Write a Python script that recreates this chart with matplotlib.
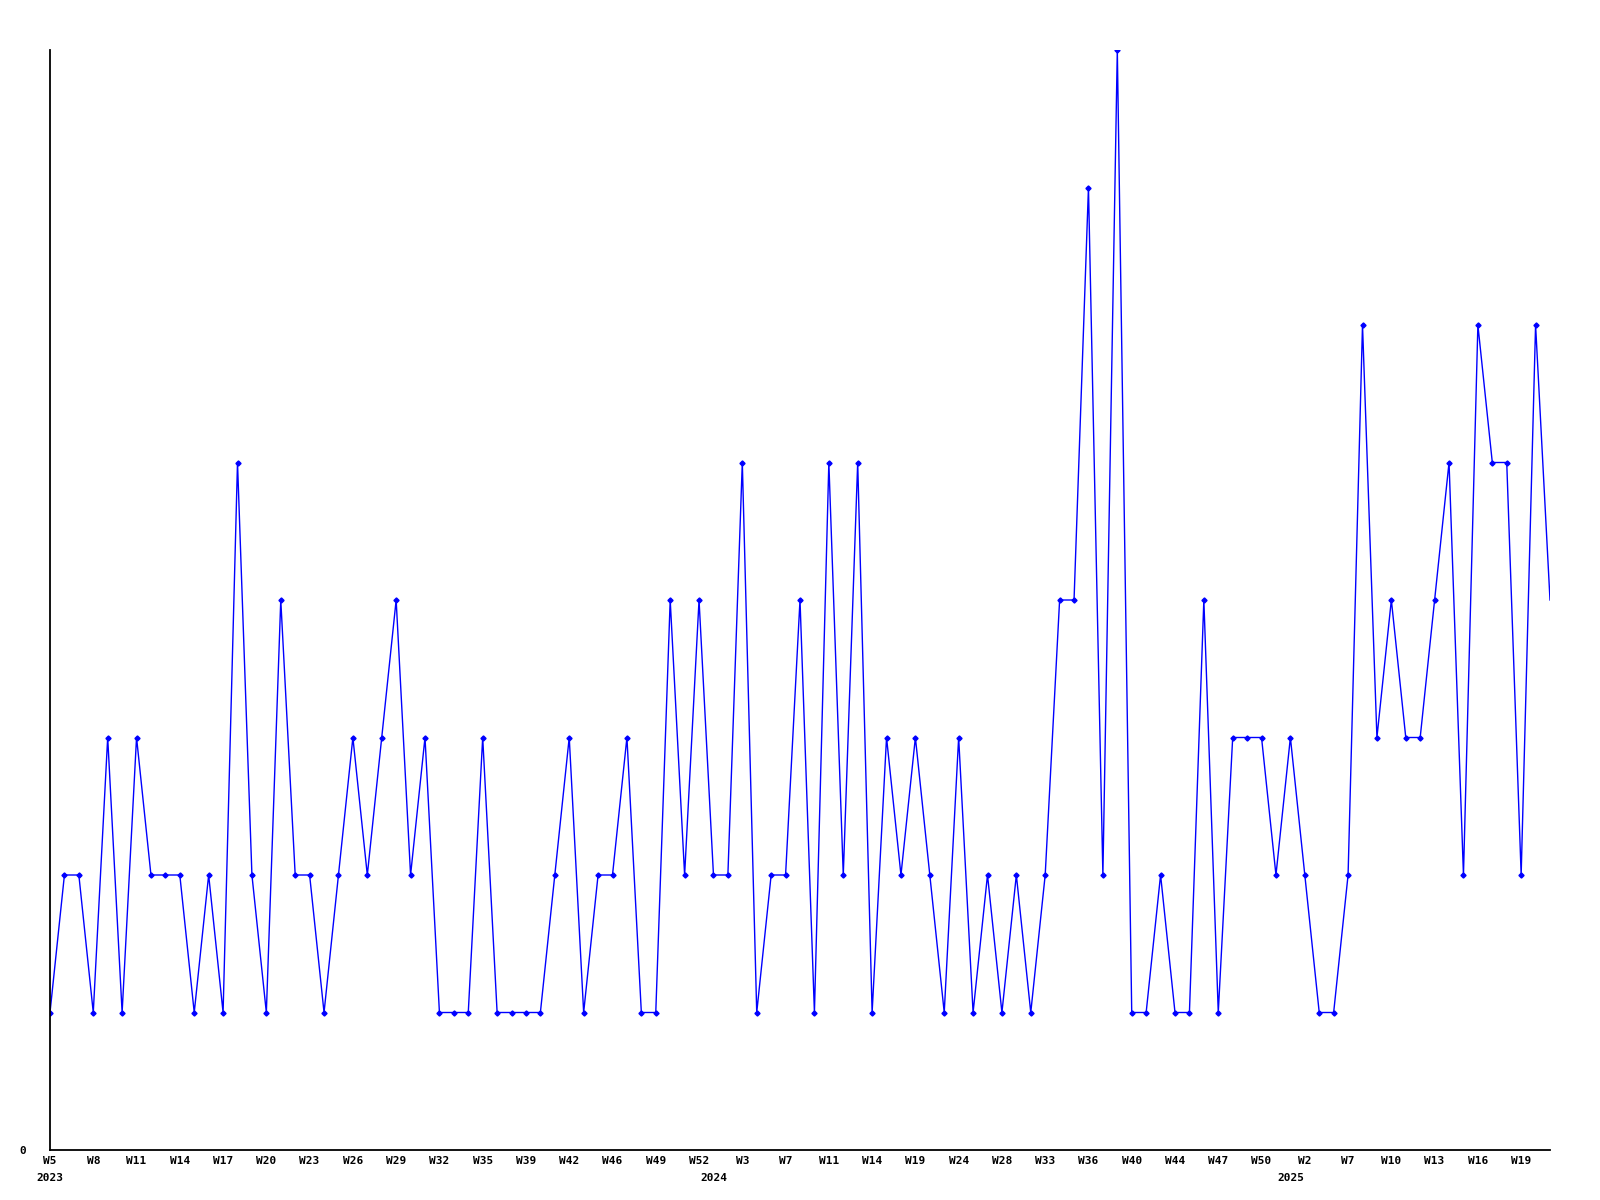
import matplotlib.pyplot as plt
from matplotlib import transforms

# weekly counts, 2023 W5 .. 2025 W21
values = [1, 2, 2, 1, 3, 1, 3, 2, 2, 2, 1, 2, 1, 5, 2, 1, 4, 2, 2, 1,
          2, 3, 2, 3, 4, 2, 3, 1, 1, 1, 3, 1, 1, 1, 1, 2, 3, 1, 2, 2,
          3, 1, 1, 4, 2, 4, 2, 2, 5, 1, 2, 2, 4, 1, 5, 2, 5, 1, 3, 2,
          3, 2, 1, 3, 1, 2, 1, 2, 1, 2, 4, 4, 7, 2, 8, 1, 1, 2, 1, 1,
          4, 1, 3, 3, 3, 2, 3, 2, 1, 1, 2, 6, 3, 4, 3, 3, 4, 5, 2, 6,
          5, 5, 2, 6, 4]

tickLabels = ['W5', 'W8', 'W11', 'W14', 'W17', 'W20', 'W23', 'W26', 'W29',
              'W32', 'W35', 'W39', 'W42', 'W46', 'W49', 'W52', 'W3', 'W7',
              'W11', 'W14', 'W19', 'W24', 'W28', 'W33', 'W36', 'W40', 'W44',
              'W47', 'W50', 'W2', 'W7', 'W10', 'W13', 'W16', 'W19']
tickStep = 3

years = ['2023', '2024', '2025']
yearIndex = [0, 46, 86]

fontFamily = 'DejaVu Sans Mono'

fig = plt.figure(figsize=(16, 12), dpi=100)
ax = fig.add_axes([50 / 1600, 50 / 1200, 1500 / 1600, 1100 / 1200])

x = list(range(len(values)))
# the last week has no marker in the original
ax.plot(x, values, color='#0000ff', linewidth=1.0, marker='D', markersize=2.6,
        markevery=list(range(len(values) - 1)))

ax.set_xlim(0, len(values) - 1)
ax.set_ylim(0, max(values))

ax.spines['top'].set_visible(False)
ax.spines['right'].set_visible(False)
ax.spines['left'].set_linewidth(1.3)
ax.spines['bottom'].set_linewidth(1.3)

ax.set_xticks(x[::tickStep][:len(tickLabels)])
ax.set_xticklabels(tickLabels, fontfamily=fontFamily, fontweight='bold', fontsize=8)
ax.tick_params(axis='x', length=0, pad=4)

ax.set_yticks([0])
ax.set_yticklabels(['0'], fontfamily=fontFamily, fontweight='bold', fontsize=8)
ax.tick_params(axis='y', length=0, pad=17)

trans = transforms.blended_transform_factory(ax.transData, ax.transAxes)
for label, idx in zip(years, yearIndex):
    ax.text(idx, -28 / 1100, label, transform=trans, ha='center', va='center',
            fontfamily=fontFamily, fontweight='bold', fontsize=8)

plt.savefig('out.png', dpi=100)
plt.close()
